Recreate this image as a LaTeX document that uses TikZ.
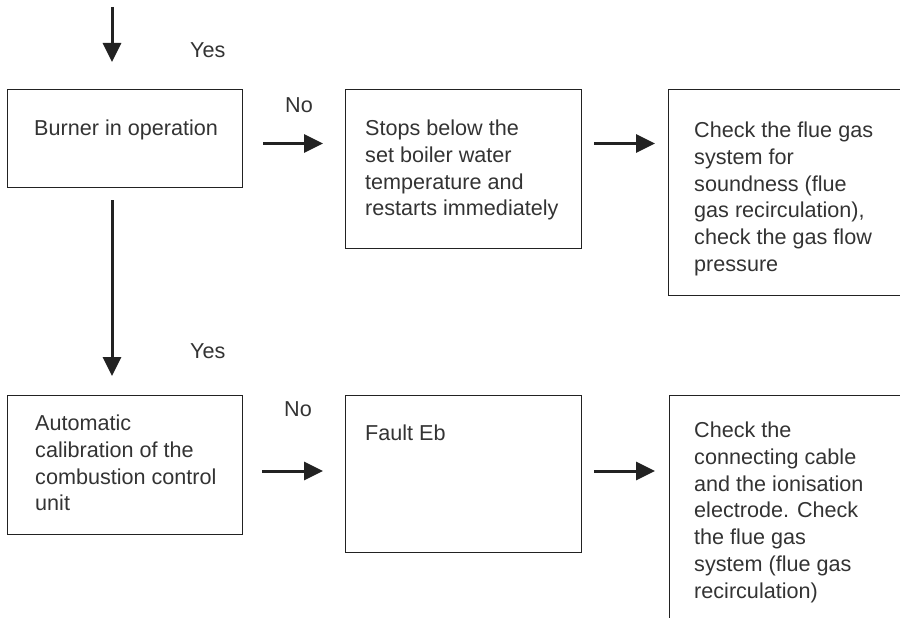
\documentclass[tikz,border=0pt]{standalone}
\usepackage{fontspec}
\setmainfont{Liberation Sans}
\usetikzlibrary{arrows.meta}
\definecolor{linec}{HTML}{222222}
\definecolor{textc}{HTML}{333333}
\tikzset{
  box/.style={draw=linec, line width=1.3pt, fill=none, inner sep=0pt, anchor=north west},
  txt/.style={text=textc, inner sep=0pt, anchor=north west, align=left, font=\fontsize{21.6}{26.7}\selectfont},
  arr/.style={draw=linec, line width=3pt, -{Triangle[length=19pt,width=18pt]}}
}
\begin{document}
\begin{tikzpicture}[x=1pt, y=-1pt]
\path[use as bounding box] (0,0) rectangle (900,618);
\clip (0,0) rectangle (900,618);
% boxes
\node[box, minimum width=235pt, minimum height=98pt]  (b1) at (7,89) {};
\node[box, minimum width=236pt, minimum height=159pt] (b2) at (345,89) {};
\node[box, minimum width=250pt, minimum height=206pt] (b3) at (668,89) {};
\node[box, minimum width=235pt, minimum height=139pt] (b4) at (7,395) {};
\node[box, minimum width=236pt, minimum height=157pt] (b5) at (345,395) {};
\node[box, minimum width=250pt, minimum height=250pt] (b6) at (669,395) {};
% texts
\node[txt] (t1) at (34,120) {Burner in operation};
\node[txt] (t2) at (365,120) {Stops below the\\set boiler water\\temperature and\\restarts immediately};
\node[txt] (t3) at (694,122) {Check the flue gas\\system for\\soundness (flue\\gas recirculation),\\check the gas flow\\pressure};
\node[txt] (t4) at (35,415) {Automatic\\calibration of the\\combustion control\\unit};
\node[txt] (t5) at (365,425) {Fault Eb};
\node[txt] (t6) at (694,422) {Check the\\connecting cable\\and the ionisation\\electrode. Check\\the flue gas\\system (flue gas\\recirculation)};
% labels
\node[txt] (y1) at (190,42) {Yes};
\node[txt] (y2) at (190,343) {Yes};
\node[txt] (n1) at (285,97) {No};
\node[txt] (n2) at (284,401) {No};
% connectors
\coordinate (start) at (112,7);
\coordinate (row1) at (0,143.5);
\coordinate (row2) at (0,471);
\draw[arr, shorten >=27pt] (start) -- (start |- b1.north);
\draw[arr, shorten <=12pt, shorten >=19pt] (start |- b1.south) -- (start |- b4.north);
\draw[arr, shorten <=20pt, shorten >=22pt] (b1.east |- row1) -- (b2.west |- row1);
\draw[arr, shorten <=12pt, shorten >=13pt] (b2.east |- row1) -- (b3.west |- row1);
\draw[arr, shorten <=19pt, shorten >=22pt] (b4.east |- row2) -- (b5.west |- row2);
\draw[arr, shorten <=12pt, shorten >=14pt] (b5.east |- row2) -- (b6.west |- row2);
\end{tikzpicture}
\end{document}
